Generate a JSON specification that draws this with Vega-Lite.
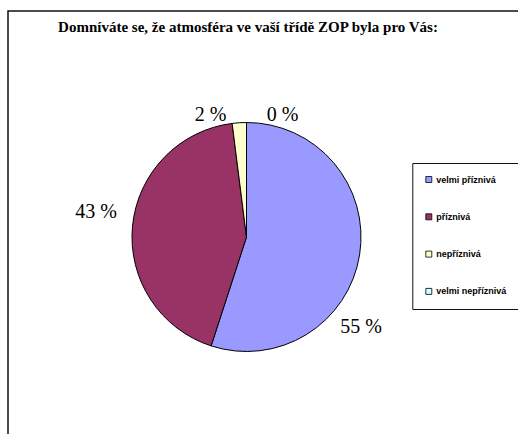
{
  "$schema": "https://vega.github.io/schema/vega-lite/v6.json",
  "width": 530,
  "height": 440,
  "autosize": {"type": "none"},
  "padding": {"left": 8, "top": 11, "right": 0, "bottom": 0},
  "background": "white",
  "view": {"stroke": "#111", "strokeWidth": 1.5, "fill": "white"},
  "config": {
    "view": {"stroke": "#111", "strokeWidth": 1.5},
    "font": "Liberation Sans"
  },
  "title": {
    "text": "Domníváte se, že atmosféra ve vaší třídě ZOP byla pro Vás:",
    "font": "Liberation Serif",
    "fontSize": 15,
    "fontWeight": "bold",
    "color": "#000",
    "anchor": "middle",
    "offset": -24,
    "dx": -25
  },
  "data": {
    "values": [
      {"kategorie": "velmi příznivá", "procento": 55, "poradi": 1, "popis": "55 %"},
      {"kategorie": "příznivá", "procento": 43, "poradi": 2, "popis": "43 %"},
      {"kategorie": "nepříznivá", "procento": 2, "poradi": 3, "popis": "2 %"},
      {"kategorie": "velmi nepříznivá", "procento": 0, "poradi": 4, "popis": "0 %"}
    ]
  },
  "layer": [
    {
      "mark": {"type": "arc", "x": 238.5, "y": 226, "outerRadius": 114.5, "stroke": "#000", "strokeWidth": 1},
      "encoding": {
        "theta": {"field": "procento", "type": "quantitative", "stack": true},
        "order": {"field": "poradi", "type": "quantitative"},
        "color": {
          "field": "kategorie",
          "type": "nominal",
          "scale": {
            "domain": ["velmi příznivá", "příznivá", "nepříznivá", "velmi nepříznivá"],
            "range": ["#9999FF", "#993366", "#FFFFCC", "#CCFFFF"]
          },
          "legend": {
            "title": null,
            "orient": "none",
            "legendX": 404.3,
            "legendY": 152,
            "direction": "vertical",
            "strokeColor": "#111",
            "padding": 12,
            "rowPadding": 26.3,
            "symbolType": "square",
            "symbolSize": 36,
            "symbolStrokeColor": "#000",
            "symbolStrokeWidth": 0.8,
            "labelFont": "Liberation Sans",
            "labelFontSize": 9,
            "labelFontWeight": "bold",
            "labelColor": "#000",
            "labelOffset": 3,
            "labelLimit": 200
          }
        }
      }
    },
    {
      "transform": [{"filter": "datum.poradi == 1"}],
      "mark": {"type": "text", "x": 238.5, "y": 226, "dx": 114.5, "dy": 90, "font": "Liberation Serif", "fontSize": 20, "align": "center", "baseline": "middle", "color": "#000"},
      "encoding": {"text": {"field": "popis"}}
    },
    {
      "transform": [{"filter": "datum.poradi == 2"}],
      "mark": {"type": "text", "x": 238.5, "y": 226, "dx": -150.5, "dy": -25, "font": "Liberation Serif", "fontSize": 20, "align": "center", "baseline": "middle", "color": "#000"},
      "encoding": {"text": {"field": "popis"}}
    },
    {
      "transform": [{"filter": "datum.poradi == 3"}],
      "mark": {"type": "text", "x": 238.5, "y": 226, "dx": -36, "dy": -122.5, "font": "Liberation Serif", "fontSize": 20, "align": "center", "baseline": "middle", "color": "#000"},
      "encoding": {"text": {"field": "popis"}}
    },
    {
      "transform": [{"filter": "datum.poradi == 4"}],
      "mark": {"type": "text", "x": 238.5, "y": 226, "dx": 36, "dy": -122.5, "font": "Liberation Serif", "fontSize": 20, "align": "center", "baseline": "middle", "color": "#000"},
      "encoding": {"text": {"field": "popis"}}
    }
  ]
}
